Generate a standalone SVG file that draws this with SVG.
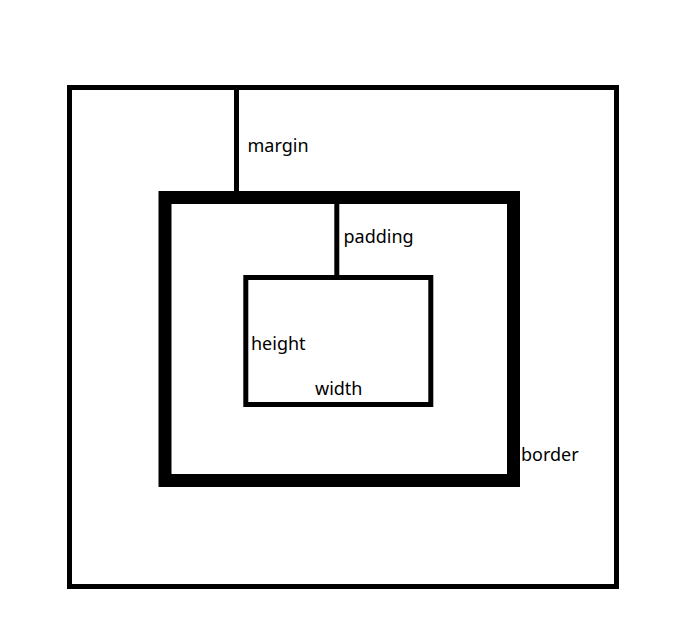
<svg xmlns="http://www.w3.org/2000/svg" width="690" height="644" viewBox="0 0 690 644">
<style>
.box{fill:none;stroke:#000}
.ln{stroke:#000;stroke-width:5}
text{font-family:"Noto Sans","Liberation Sans",sans-serif;font-size:18px;fill:#000}
</style>
<rect width="690" height="644" fill="#fff"/>
<g id="margin-box"><rect class="box" x="69.5" y="87.5" width="547" height="499" stroke-width="5"/></g>
<g id="border-box"><rect class="box" x="165" y="197.5" width="348.5" height="283" stroke-width="13"/></g>
<g id="content-box"><rect class="box" x="245.8" y="277.5" width="185" height="127" stroke-width="5"/></g>
<g id="connectors">
<line class="ln" x1="236.5" y1="89" x2="236.5" y2="192"/>
<line class="ln" x1="336.8" y1="203" x2="336.8" y2="276"/>
</g>
<g id="labels">
<text x="247.5" y="152">margin</text>
<text x="343.5" y="243">padding</text>
<text x="251" y="350">height</text>
<text x="315" y="395">width</text>
<text x="521" y="461">border</text>
</g>
</svg>
